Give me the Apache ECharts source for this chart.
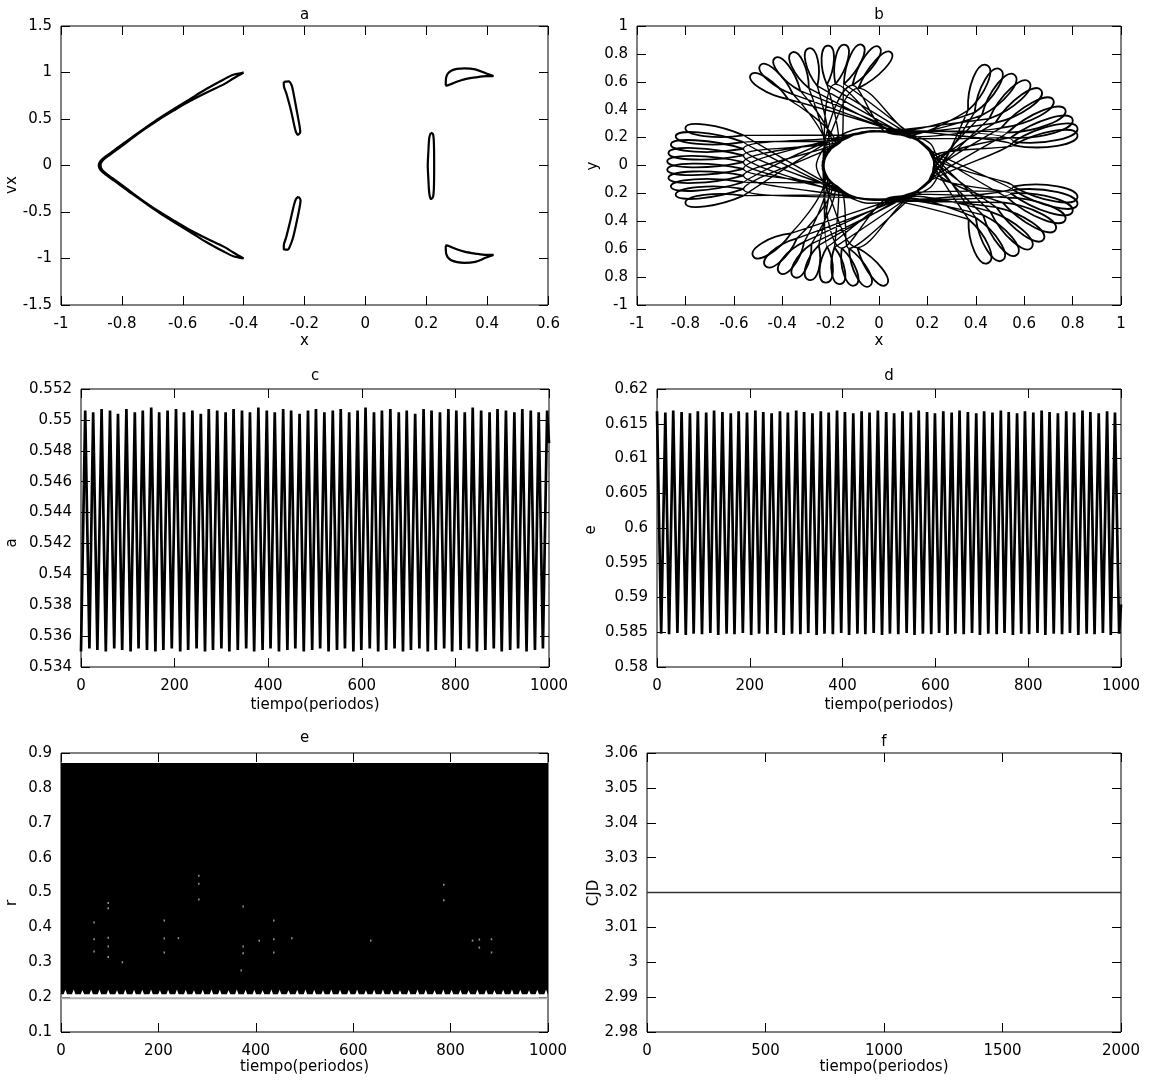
<!DOCTYPE html>
<html>
<head>
<meta charset="utf-8">
<script src="https://cdn.jsdelivr.net/npm/echarts/dist/echarts.min.js"></script>
<style>html,body{margin:0;padding:0;background:#fff}#chart{width:1163px;height:1082px}</style>
</head>
<body>
<div id="chart"></div>
<script>
// ================= DATA =================
// ---- panel a : Poincare section (x, vx) ----
const aCrescent = [[-0.40,1.0],[-0.434,0.975],[-0.464,0.928],[-0.523,0.822],[-0.578,0.71],[-0.629,0.607],[-0.678,0.505],[-0.723,0.404],[-0.767,0.303],[-0.809,0.202],[-0.852,0.1],[-0.870,0.05],[-0.876,0],
 [-0.870,-0.05],[-0.852,-0.1],[-0.809,-0.202],[-0.767,-0.303],[-0.723,-0.404],[-0.678,-0.505],[-0.629,-0.607],[-0.578,-0.71],[-0.523,-0.822],[-0.464,-0.928],[-0.434,-0.975],[-0.40,-1.0],
 [-0.434,-0.935],[-0.464,-0.875],[-0.523,-0.782],[-0.578,-0.69],[-0.629,-0.593],[-0.678,-0.495],[-0.723,-0.396],[-0.765,-0.297],[-0.805,-0.198],[-0.846,-0.1],[-0.864,-0.05],[-0.870,0],
 [-0.864,0.05],[-0.846,0.1],[-0.805,0.198],[-0.765,0.297],[-0.723,0.396],[-0.678,0.495],[-0.629,0.593],[-0.578,0.69],[-0.523,0.782],[-0.464,0.875],[-0.434,0.935],[-0.40,1.0]];
const aIslandUpperL = [[-0.268,0.90],[-0.252,0.905],[-0.242,0.86],[-0.236,0.775],[-0.226,0.60],[-0.216,0.42],[-0.214,0.36],[-0.222,0.33],[-0.228,0.36],[-0.233,0.42],[-0.245,0.60],[-0.260,0.78],[-0.268,0.86],[-0.268,0.90]];
const aIslandLowerL = [[-0.22,-0.335],[-0.213,-0.37],[-0.215,-0.43],[-0.226,-0.61],[-0.238,-0.78],[-0.248,-0.87],[-0.255,-0.905],[-0.268,-0.90],[-0.268,-0.86],[-0.26,-0.77],[-0.247,-0.60],[-0.235,-0.43],[-0.228,-0.36],[-0.22,-0.335]];
const aIslandMid = [[0.215,0.35],[0.222,0.34],[0.225,0.25],[0.226,0.0],[0.225,-0.25],[0.222,-0.34],[0.215,-0.36],[0.210,-0.30],[0.207,-0.15],[0.205,0.0],[0.207,0.15],[0.210,0.30],[0.215,0.35]];
const aIslandUpperR = [[0.264,0.865],[0.266,0.955],[0.282,1.02],[0.325,1.044],[0.361,1.033],[0.397,0.99],[0.421,0.962],[0.397,0.962],[0.361,0.947],[0.325,0.926],[0.30,0.90],[0.282,0.876],[0.266,0.858],[0.264,0.865]];
const aIslandLowerR = [[0.264,-0.865],[0.266,-0.955],[0.282,-1.02],[0.325,-1.048],[0.361,-1.036],[0.397,-0.99],[0.421,-0.962],[0.397,-0.962],[0.361,-0.947],[0.325,-0.926],[0.30,-0.90],[0.282,-0.876],[0.266,-0.858],[0.264,-0.865]];

// ---- panel b : orbit (x, y). Apocentre loops of each lobe: [crossing x, crossing y, far end x, far end y] ----
const bLoopsL = [[-0.56,0.216,-0.80,0.27],[-0.56,0.168,-0.84,0.21],[-0.56,0.12,-0.86,0.15],[-0.56,0.072,-0.87,0.09],[-0.56,0.024,-0.875,0.03],
 [-0.56,-0.024,-0.875,-0.03],[-0.56,-0.072,-0.87,-0.09],[-0.56,-0.12,-0.86,-0.15],[-0.56,-0.168,-0.84,-0.21],[-0.56,-0.216,-0.80,-0.27]];
const bLoopsT = [[-0.375,0.475,-0.53,0.65],[-0.355,0.51,-0.49,0.72],[-0.325,0.535,-0.43,0.77],[-0.29,0.555,-0.36,0.81],[-0.255,0.57,-0.29,0.84],
 [-0.215,0.58,-0.21,0.86],[-0.18,0.583,-0.14,0.865],[-0.145,0.583,-0.07,0.865],[-0.11,0.575,0.0,0.85],[-0.085,0.555,0.05,0.81]];
const bLoopsB = [[-0.364,-0.487,-0.52,-0.65],[-0.339,-0.522,-0.47,-0.72],[-0.309,-0.547,-0.41,-0.77],[-0.279,-0.562,-0.35,-0.80],[-0.249,-0.572,-0.29,-0.82],
 [-0.214,-0.582,-0.22,-0.84],[-0.184,-0.587,-0.16,-0.85],[-0.154,-0.592,-0.10,-0.86],[-0.124,-0.594,-0.04,-0.865],[-0.089,-0.589,0.03,-0.855]];
const bLoopsRU = [[0.368,0.395,0.445,0.72],[0.395,0.38,0.50,0.69],[0.425,0.36,0.56,0.65],[0.455,0.335,0.62,0.60],[0.48,0.305,0.67,0.54],
 [0.505,0.27,0.72,0.47],[0.53,0.235,0.77,0.40],[0.545,0.20,0.80,0.33],[0.555,0.17,0.82,0.27],[0.555,0.145,0.82,0.22]];
const bLoopsRL = [[0.37,-0.385,0.45,-0.70],[0.40,-0.375,0.51,-0.68],[0.43,-0.355,0.57,-0.64],[0.46,-0.33,0.63,-0.59],[0.485,-0.30,0.68,-0.53],
 [0.51,-0.265,0.73,-0.46],[0.53,-0.23,0.77,-0.39],[0.545,-0.20,0.80,-0.33],[0.555,-0.175,0.82,-0.28],[0.555,-0.15,0.82,-0.23]];
// pericentre passages round the central hole, between successive lobes
const bChordA = [
 [[0.118,0.217],[0,0.25],[-0.118,0.217]], [[0.061,0.242],[-0.061,0.242],[-0.166,0.177]], [[0.099,0.227],[-0.020,0.249],[-0.135,0.205]],
 [[0.041,0.246],[-0.080,0.235],[-0.180,0.161]], [[0.080,0.235],[-0.041,0.246],[-0.151,0.192]], [[0.135,0.205],[0.020,0.249],[-0.099,0.227]],
 [[0.020,0.249],[-0.099,0.227],[-0.192,0.144]], [[0.151,0.192],[0.041,0.246],[-0.080,0.235]], [[0,0.25],[-0.118,0.217],[-0.204,0.125]],
 [[0.088,0.258],[-0.045,0.271],[-0.166,0.211]]];
const bChordB = [
 [[-0.180,-0.161],[-0.080,-0.235],[0.041,-0.246]], [[-0.135,-0.205],[-0.020,-0.249],[0.099,-0.227]], [[-0.166,-0.177],[-0.061,-0.242],[0.061,-0.242]],
 [[-0.118,-0.217],[0,-0.25],[0.118,-0.217]], [[-0.151,-0.192],[-0.041,-0.246],[0.080,-0.235]], [[-0.192,-0.144],[-0.099,-0.227],[0.020,-0.249]],
 [[-0.099,-0.227],[0.020,-0.249],[0.135,-0.205]], [[-0.204,-0.125],[-0.118,-0.217],[0,-0.25]], [[-0.080,-0.235],[0.041,-0.246],[0.151,-0.192]],
 [[-0.166,-0.211],[-0.045,-0.271],[0.088,-0.258]]];
const bChordC = [
 [[0.234,-0.022],[0.213,0.106],[0.135,0.205]], [[0.231,0.043],[0.180,0.161],[0.080,0.235]], [[0.235,0],[0.204,0.125],[0.118,0.217]],
 [[0.227,0.065],[0.166,0.177],[0.061,0.242]], [[0.234,0.022],[0.192,0.144],[0.099,0.227]], [[0.231,-0.043],[0.221,0.086],[0.151,0.192]],
 [[0.221,0.086],[0.151,0.192],[0.041,0.246]], [[0.227,-0.065],[0.227,0.065],[0.166,0.177]], [[0.213,0.106],[0.135,0.205],[0.020,0.249]],
 [[0.257,0.024],[0.212,0.158],[0.109,0.249]]];
const bChordD = [
 [[-0.180,0.161],[-0.231,0.043],[-0.221,-0.086]], [[-0.213,0.106],[-0.234,-0.022],[-0.192,-0.144]], [[-0.192,0.144],[-0.234,0.022],[-0.213,-0.106]],
 [[-0.221,0.086],[-0.231,-0.043],[-0.180,-0.161]], [[-0.204,0.125],[-0.235,0],[-0.204,-0.125]], [[-0.166,0.177],[-0.227,0.065],[-0.227,-0.065]],
 [[-0.227,0.065],[-0.227,-0.065],[-0.166,-0.177]], [[-0.151,0.192],[-0.221,0.086],[-0.231,-0.043]], [[-0.231,0.043],[-0.221,-0.086],[-0.151,-0.192]],
 [[-0.224,0.138],[-0.259,0],[-0.224,-0.138]]];
const bChordE = [
 [[0.061,-0.242],[0.166,-0.177],[0.227,-0.065]], [[0.118,-0.217],[0.204,-0.125],[0.235,0]], [[0.080,-0.235],[0.180,-0.161],[0.231,-0.043]],
 [[0.135,-0.205],[0.213,-0.106],[0.234,0.022]], [[0.099,-0.227],[0.192,-0.144],[0.234,-0.022]], [[0.041,-0.246],[0.151,-0.192],[0.221,-0.086]],
 [[0.151,-0.192],[0.221,-0.086],[0.231,0.043]], [[0.020,-0.249],[0.135,-0.205],[0.213,-0.106]], [[0.166,-0.177],[0.227,-0.065],[0.227,0.065]],
 [[0.109,-0.249],[0.212,-0.158],[0.257,-0.024]]];

// ---- panels c, d : extrema of a(t) and e(t) ----
const tExt = [0,9,18,26,35,44,53,62,71,79,88,97,106,115,123,132,141,150,159,167,176,185,194,203,212,220,229,238,247,256,265,273,282,291,300,309,317,326,335,344,353,361,370,379,388,397,405,414,423,432,441,449,458,467,476,485,494,502,511,520,529,538,547,555,564,573,582,591,599,608,617,626,635,643,652,661,670,679,688,696,705,714,723,732,741,749,758,767,776,785,793,802,811,820,829,837,846,855,864,873,882,890,899,908,917,926,934,943,952,961,970,978,987,996,1000];
const aExt = [0.5350,0.5506,0.5352,0.5505,0.5351,0.5507,0.5350,0.5506,0.5352,0.5504,0.5351,0.5507,0.5350,0.5505,0.5352,0.5506,0.5351,0.5508,0.5350,0.5505,
 0.5351,0.5506,0.5352,0.5507,0.5350,0.5505,0.5351,0.5506,0.5352,0.5504,0.5350,0.5507,0.5351,0.5506,0.5352,0.5505,0.5350,0.5507,0.5351,0.5506,
 0.5352,0.5505,0.5350,0.5508,0.5351,0.5506,0.5352,0.5505,0.5350,0.5507,0.5351,0.5506,0.5352,0.5504,0.5350,0.5506,0.5351,0.5507,0.5352,0.5505,
 0.5350,0.5506,0.5351,0.5507,0.5352,0.5505,0.5350,0.5506,0.5351,0.5508,0.5352,0.5505,0.5350,0.5506,0.5351,0.5507,0.5352,0.5505,0.5350,0.5506,
 0.5351,0.5504,0.5352,0.5507,0.5350,0.5506,0.5351,0.5505,0.5352,0.5507,0.5350,0.5506,0.5351,0.5505,0.5352,0.5508,0.5350,0.5506,0.5351,0.5505,
 0.5352,0.5507,0.5350,0.5506,0.5351,0.5505,0.5352,0.5507,0.5350,0.5506,0.5351,0.5505,0.5352,0.5506,0.5485];
const eExt = [0.6168,0.5848,0.6166,0.5847,0.6169,0.5849,0.6167,0.5846,0.6165,0.5848,0.6168,0.5847,0.6166,0.5849,0.6169,0.5846,0.6167,0.5848,0.6165,0.5847,
 0.6168,0.5849,0.6166,0.5846,0.6169,0.5848,0.6167,0.5847,0.6165,0.5849,0.6168,0.5846,0.6166,0.5848,0.6169,0.5847,0.6167,0.5849,0.6165,0.5846,
 0.6168,0.5848,0.6166,0.5847,0.6169,0.5849,0.6167,0.5846,0.6165,0.5848,0.6168,0.5847,0.6166,0.5849,0.6169,0.5846,0.6167,0.5848,0.6165,0.5847,
 0.6168,0.5849,0.6166,0.5846,0.6169,0.5848,0.6167,0.5847,0.6165,0.5849,0.6168,0.5846,0.6166,0.5848,0.6169,0.5847,0.6167,0.5849,0.6165,0.5846,
 0.6168,0.5848,0.6166,0.5847,0.6169,0.5849,0.6167,0.5846,0.6165,0.5848,0.6168,0.5847,0.6166,0.5849,0.6169,0.5846,0.6167,0.5848,0.6165,0.5847,
 0.6168,0.5849,0.6166,0.5846,0.6169,0.5848,0.6167,0.5847,0.6165,0.5849,0.6168,0.5846,0.6166,0.5848,0.5890];

// ---- panel e : r(t) band ----
const rTop = 0.8715;
const rBase = 0.208;
const rNotchT = [9,26,44,62,79,97,115,132,150,167,185,203,220,238,256,273,291,309,326,344,361,379,397,414,432,449,467,485,502,520,538,555,573,591,608,626,643,661,679,696,714,732,749,767,785,802,820,837,855,873,890,908,926,943,961,978,996];
const rNotchTip = [0.221,0.222,0.220,0.221,0.222,0.221,0.220,0.222,0.221,0.221,0.222,0.220,0.221,0.222,0.221,0.220,0.221,0.222,0.221,0.220,
 0.222,0.221,0.221,0.220,0.222,0.221,0.220,0.221,0.222,0.221,0.220,0.222,0.221,0.221,0.222,0.220,0.221,0.222,0.221,0.220,
 0.221,0.222,0.221,0.220,0.222,0.221,0.221,0.220,0.222,0.221,0.220,0.221,0.222,0.221,0.220,0.221,0.222];
const rFloor = 0.197;
const rGapT = [68,68,68,97,97,97,97,97,126,212,212,212,241,283,283,283,374,374,374,370,407,437,437,437,474,636,786,786,845,859,859,884,884];
const rGapR = [0.366,0.414,0.331,0.47,0.455,0.37,0.345,0.315,0.30,0.42,0.368,0.328,0.369,0.548,0.525,0.48,0.46,0.345,0.326,0.276,0.362,0.42,0.366,0.328,0.369,0.362,0.522,0.478,0.362,0.365,0.342,0.366,0.328];

// ---- panel f : Jacobi constant ----
const fT = [0, 2000];
const fCJD = [3.02, 3.02];

// ---- axes: [min, max, interval] and texts ----
const axesX = [[-1,0.6,0.2],[-1,1,0.2],[0,1000,200],[0,1000,200],[0,1000,200],[0,2000,500]];
const axesY = [[-1.5,1.5,0.5],[-1,1,0.2],[0.534,0.552,0.002],[0.58,0.62,0.005],[0.1,0.9,0.1],[2.98,3.06,0.01]];
const titles = ['a','b','c','d','e','f'];
const xNames = ['x','x','tiempo(periodos)','tiempo(periodos)','tiempo(periodos)','tiempo(periodos)'];
const yNames = ['vx','y','a','e','r','CJD'];

// ================= LAYOUT =================
const grids = [
 {left:61, top:26, width:487, height:279},
 {left:637, top:26, width:484, height:279},
 {left:81, top:389, width:468, height:278},
 {left:657, top:389, width:464, height:278},
 {left:61, top:753, width:487, height:279},
 {left:647, top:753, width:474, height:279}];
const FONT = '"DejaVu Sans", "Liberation Sans", sans-serif';
const num = v => String(+(+v).toFixed(4));
const fmtB = v => (v < 0 && v > -0.999) ? num(-v) : num(v);

const xAxis = [], yAxis = [];
grids.forEach((g, i) => {
  const [xmin,xmax,xint] = axesX[i], [ymin,ymax,yint] = axesY[i];
  const common = {type:'value', gridIndex:i, splitLine:{show:false}, axisLine:{show:false, onZero:false},
    axisTick:{show:true, inside:true, length:9, lineStyle:{color:'#000', width:1}}};
  xAxis.push(Object.assign({}, common, {min:xmin, max:xmax, interval:xint, position:'bottom',
    axisLabel:{show:true, margin:12, fontSize:15, fontFamily:FONT, color:'#000', formatter:num, showMinLabel:true, showMaxLabel:true}}));
  xAxis.push(Object.assign({}, common, {min:xmin, max:xmax, interval:xint, position:'top', axisLabel:{show:false}}));
  yAxis.push(Object.assign({}, common, {min:ymin, max:ymax, interval:yint, position:'left',
    axisLabel:{show:true, margin:9, fontSize:15, fontFamily:FONT, color:'#000', formatter: i===1 ? fmtB : num, showMinLabel:true, showMaxLabel:true}}));
  yAxis.push(Object.assign({}, common, {min:ymin, max:ymax, interval:yint, position:'right', axisLabel:{show:false}}));
});
const gridOpts = grids.map(g => Object.assign({show:true, borderColor:'#000', borderWidth:1, backgroundColor:'transparent', containLabel:false, outerBoundsMode:'none'}, g));

// ================= SERIES =================
const series = [];
const lineS = (i, data, width, smooth) => ({type:'line', xAxisIndex:2*i, yAxisIndex:2*i, data, symbol:'none', showSymbol:false,
  smooth: smooth || false, lineStyle:{color:'#000', width}, silent:true, animation:false, clip:true, z:3});

// panel a
[aCrescent, aIslandUpperL, aIslandLowerL, aIslandMid, aIslandUpperR, aIslandLowerR].forEach(d => series.push(lineS(0, d, 2.2, 0.3)));

// panel b: legs (lobe crossing -> pericentre passage -> next lobe)
const bLegs = [];
for (let j = 0; j < bLoopsL.length; j++) {
  bLegs.push([bLoopsRU[j][0], bLoopsRU[j][1]], ...bChordA[j]);
  bLegs.push([bLoopsL[j][0], bLoopsL[j][1]], ...bChordB[j]);
  bLegs.push([bLoopsRL[j][0], bLoopsRL[j][1]], ...bChordC[j]);
  bLegs.push([bLoopsT[j][0], bLoopsT[j][1]], ...bChordD[j]);
  bLegs.push([bLoopsB[j][0], bLoopsB[j][1]], ...bChordE[j]);
}
bLegs.push([bLoopsRU[0][0], bLoopsRU[0][1]]);
series.push(lineS(1, bLegs, 1.4, 0.35));

// panel b: apocentre loops drawn as closed teardrops from crossing point to far end
const loopHalfWidth = {L:6, T:6.5, B:7, RU:8, RL:8};
const loopSeries = (data, w) => ({type:'custom', xAxisIndex:2, yAxisIndex:2, data, silent:true, animation:false, clip:true, z:3,
  renderItem: (params, api) => {
    const c = api.coord([api.value(0), api.value(1)]);
    const f = api.coord([api.value(2), api.value(3)]);
    const dx = f[0]-c[0], dy = f[1]-c[1], L = Math.hypot(dx, dy) || 1;
    const ux = dx/L, uy = dy/L, nx = -uy, ny = ux;
    const p = (a, b) => (a).toFixed(2) + ',' + (b).toFixed(2);
    const d = 'M' + p(c[0], c[1]) +
      ' C' + p(c[0]+0.45*L*ux+1.3*w*nx, c[1]+0.45*L*uy+1.3*w*ny) + ' ' + p(f[0]+1.25*w*nx, f[1]+1.25*w*ny) + ' ' + p(f[0], f[1]) +
      ' C' + p(f[0]-1.25*w*nx, f[1]-1.25*w*ny) + ' ' + p(c[0]+0.45*L*ux-1.3*w*nx, c[1]+0.45*L*uy-1.3*w*ny) + ' ' + p(c[0], c[1]);
    return {type:'path', shape:{pathData:d}, style:{fill:'none', stroke:'#000', lineWidth:1.8}};
  }});
series.push(loopSeries(bLoopsL, loopHalfWidth.L), loopSeries(bLoopsT, loopHalfWidth.T), loopSeries(bLoopsB, loopHalfWidth.B),
            loopSeries(bLoopsRU, loopHalfWidth.RU), loopSeries(bLoopsRL, loopHalfWidth.RL));

// panels c, d
series.push(lineS(2, tExt.map((t,k) => [t, aExt[k]]), 2.7, false));
series.push(lineS(3, tExt.map((t,k) => [t, eExt[k]]), 2.7, false));

// panel e: filled band between pericentre envelope and apocentre
const rBand = [[0, rTop], [1000, rTop], [1000, rBase]];
for (let k = rNotchT.length - 1; k >= 0; k--) {
  const t = rNotchT[k];
  rBand.push([Math.min(1000, t + 3.5), rBase], [t, rNotchTip[k]], [Math.max(0, t - 3.5), rBase]);
}
rBand.push([0, rBase]);
series.push({type:'custom', xAxisIndex:8, yAxisIndex:8, data:[[0, 0.5]], silent:true, animation:false, clip:true, z:2,
  renderItem: (params, api) => ({type:'polygon', shape:{points: rBand.map(p => api.coord(p))}, style:{fill:'#000'}})});
series.push({type:'line', xAxisIndex:8, yAxisIndex:8, data:[[0, rFloor],[1000, rFloor]], symbol:'none',
  lineStyle:{color:'#b0b0b0', width:2}, silent:true, animation:false, z:2});
series.push({type:'scatter', xAxisIndex:8, yAxisIndex:8, data: rGapT.map((t,k) => [t, rGapR[k]]), symbol:'rect', symbolSize:[1.5,2],
  itemStyle:{color:'#bbb'}, silent:true, animation:false, z:4});

// panel f
series.push(Object.assign(lineS(5, fT.map((t,k) => [t, fCJD[k]]), 1.5, false), {lineStyle:{color:'#333', width:1.5}}));

// ================= TEXT =================
const centers = grids.map(g => g.left + g.width / 2);
const titleY = [15, 15, 376, 376, 738, 742];
const xNameY = [341, 341, 705, 705, 1067, 1067];
const yNamePos = [[12.5,185],[593,166],[12,543],[591,530],[12.5,903],[594,893]];
const graphic = [];
const txt = (x, y, text, rot) => ({type:'text', x, y, rotation: rot || 0, silent:true,
  style:{text, font:'15px ' + FONT, fill:'#000', align:'center', verticalAlign:'middle', textAlign:'center', textVerticalAlign:'middle'}});
for (let i = 0; i < 6; i++) {
  graphic.push(txt(centers[i], titleY[i], titles[i]));
  graphic.push(txt(centers[i], xNameY[i], xNames[i]));
  graphic.push(txt(yNamePos[i][0], yNamePos[i][1], yNames[i], Math.PI / 2));
}

const chart = echarts.init(document.getElementById('chart'), null, {renderer:'canvas', width:1163, height:1082});
chart.setOption({backgroundColor:'#fff', animation:false, grid:gridOpts, xAxis, yAxis, series, graphic});
</script>
</body>
</html>
